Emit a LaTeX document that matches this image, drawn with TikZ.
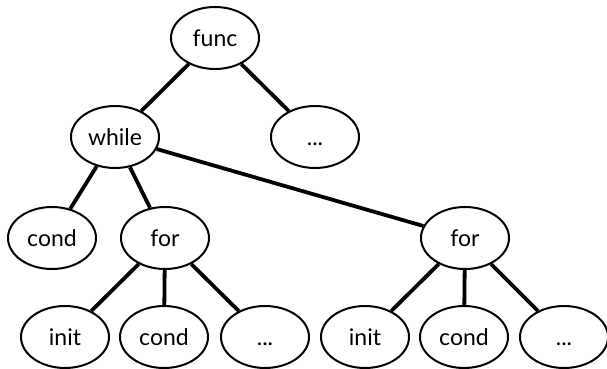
\documentclass[tikz,border=0pt]{standalone}
\usepackage{fontspec}
\setmainfont{Lato}
\usetikzlibrary{shapes.geometric}
\tikzset{
	astnode/.style={
		draw,
		ellipse,
		line width=2pt,
		inner sep=0pt,
		minimum width=88pt,
		minimum height=62pt,
		text height=16pt,
		text depth=0pt,
		font=\fontsize{23}{26}\selectfont
	},
	edge/.style={line width=3.8pt}
}

\begin{document}
\begin{tikzpicture}[x=1pt, y=-1pt]
	\useasboundingbox (0,0) rectangle (607,369);
	
	\node(func) at (215,38) [astnode] {func};
	\node(while) at (115,137) [astnode] {while};
	\node(more) at (315,137) [astnode] {...};
	\node(cond) at (52,238) [astnode] {cond};
	\node(forA) at (165,238) [astnode] {for};
	\node(forB) at (465,238) [astnode] {for};
	\node(initA) at (65,337) [astnode] {init};
	\node(condA) at (164,337) [astnode] {cond};
	\node(moreA) at (265,337) [astnode] {...};
	\node(initB) at (365,337) [astnode] {init};
	\node(condB) at (464,337) [astnode] {cond};
	\node(moreB) at (564,337) [astnode] {...};
	
	\draw[edge](func) -- (while);
	\draw[edge](func) -- (more);
	\draw[edge](while) -- (cond);
	\draw[edge](while) -- (forA);
	\draw[edge](while) -- (forB);
	\draw[edge](forA) -- (initA);
	\draw[edge](forA) -- (condA);
	\draw[edge](forA) -- (moreA);
	\draw[edge](forB) -- (initB);
	\draw[edge](forB) -- (condB);
	\draw[edge](forB) -- (moreB);
\end{tikzpicture}
\end{document}
